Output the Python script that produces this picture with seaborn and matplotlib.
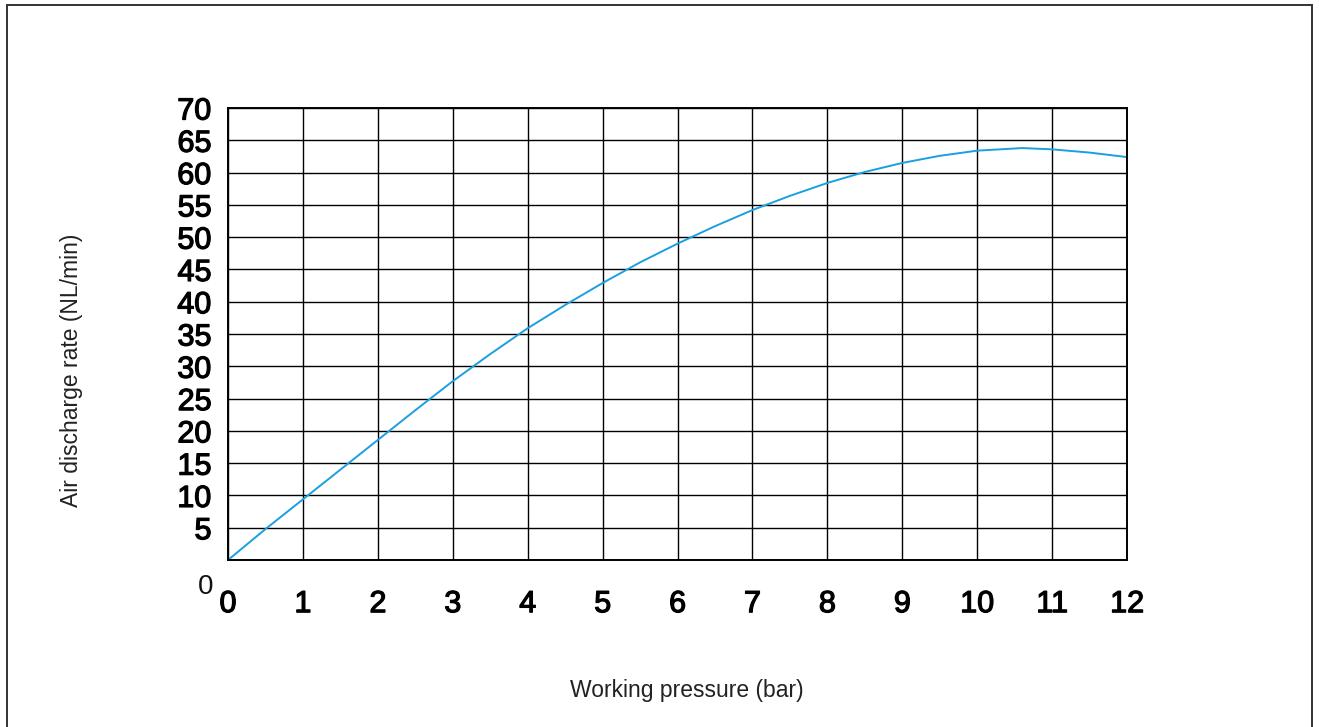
import matplotlib
matplotlib.use("Agg")
import matplotlib.pyplot as plt
import matplotlib.patches as patches
import matplotlib.patheffects as pe
import seaborn as sns
import pandas as pd

# values
pressure = [0, 0.5, 1, 1.5, 2, 2.5, 3, 3.5, 4, 4.5, 5, 5.5, 6, 6.5, 7, 7.5,
            8, 8.5, 9, 9.5, 10, 10.6, 11, 11.5, 12]
discharge = [0, 4.8, 9.4, 14.0, 18.6, 23.2, 27.7, 31.9, 35.9, 39.5, 42.9, 46.1,
             49.0, 51.7, 54.2, 56.4, 58.4, 60.1, 61.5, 62.6, 63.4, 63.8, 63.6,
             63.1, 62.4]
x_ticks = list(range(0, 13))
y_ticks = list(range(0, 75, 5))

df = pd.DataFrame({"pressure": pressure, "discharge": discharge})

sns.set_theme(style="white")
plt.rcParams["font.family"] = ["Liberation Sans", "DejaVu Sans"]

fig = plt.figure(figsize=(13.19, 7.27), dpi=100)
ax = fig.add_axes([0.1729, 0.2297, 0.6816, 0.6217])

sns.lineplot(data=df, x="pressure", y="discharge", ax=ax, color="#1a9fe0",
             linewidth=1.4)

ax.set_xlim(0, 12)
ax.set_ylim(0, 70)
ax.set_xticks(x_ticks)
ax.set_yticks(y_ticks)
ax.set_yticklabels(["" if v == 0 else str(v) for v in y_ticks])
ax.grid(True, color="black", linewidth=1.0)
for s in ax.spines.values():
    s.set_color("black")
    s.set_linewidth(1.4)

ax.tick_params(axis="y", length=0, pad=12, labelsize=22, labelcolor="black")
ax.tick_params(axis="x", length=0, pad=21, labelsize=22, labelcolor="black")
# the source digits are a bit heavier than a regular face
thick = [pe.withStroke(linewidth=0.9, foreground="black")]
for lbl in ax.get_xticklabels() + ax.get_yticklabels():
    lbl.set_path_effects(thick)

# lonely zero below the y-axis, as in the source
ax.text(-0.025, -0.06, "0", transform=ax.transAxes, fontsize=20,
        ha="center", va="center", color="#111111")

ax.set_xlabel("")
ax.set_ylabel("")
fig.text(687 / 1319, 1 - 691 / 727, "Working pressure (bar)", fontsize=16.5,
         ha="center", va="center", color="#222222")
fig.text(72 / 1319, 1 - 370 / 727, "Air discharge rate (NL/min)", fontsize=16.5,
         rotation=90, ha="center", va="center", color="#222222")

# outer frame of the figure
fig.patches.append(patches.Rectangle((7 / 1319, -0.02), 1305 / 1319, 1.02 - 5 / 727,
                                     transform=fig.transFigure, fill=False,
                                     edgecolor="#333333", linewidth=1.4))

fig.savefig("out.png", dpi=100, facecolor="white")
